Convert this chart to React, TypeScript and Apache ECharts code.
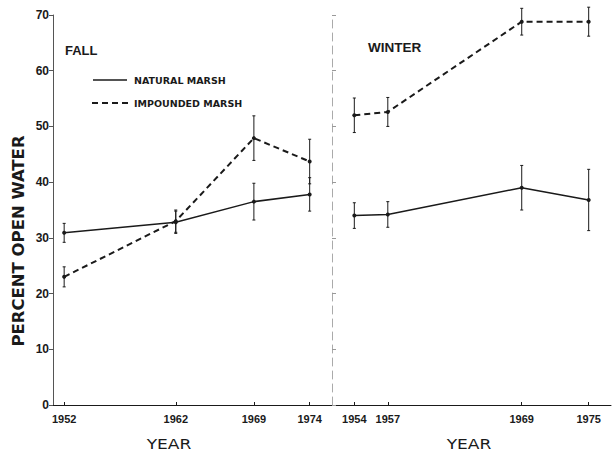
import React, { useEffect, useRef } from "react";
import * as echarts from "echarts";

const fallYears = [1952, 1962, 1969, 1974];
const fallNatural = [30.9, 32.8, 36.5, 37.8];
const fallNaturalErr = [1.7, 2.0, 3.3, 3.0];
const fallImpounded = [23.0, 33.0, 47.9, 43.7];
const fallImpoundedErr = [1.8, 2.0, 4.0, 4.0];

const winterYears = [1954, 1957, 1969, 1975];
const winterNatural = [34.0, 34.2, 39.0, 36.8];
const winterNaturalErr = [2.3, 2.3, 4.0, 5.5];
const winterImpounded = [52.0, 52.6, 68.8, 68.8];
const winterImpoundedErr = [3.1, 2.6, 2.4, 2.6];

const yTicks = [0, 10, 20, 30, 40, 50, 60, 70];

const INK = "#1a1a1a";

function pairs(xs: number[], ys: number[]) {
  return xs.map((x, i) => [x, ys[i]]);
}
function errs(xs: number[], ys: number[], es: number[]) {
  return xs.map((x, i) => [x, ys[i] - es[i], ys[i] + es[i]]);
}

const errorRender = (params: any, api: any) => {
  const x = api.value(0);
  const lo = api.coord([x, api.value(1)]);
  const hi = api.coord([x, api.value(2)]);
  const w = 1.5;
  const style = { stroke: INK, lineWidth: 1 };
  return {
    type: "group",
    children: [
      { type: "line", shape: { x1: hi[0], y1: hi[1], x2: lo[0], y2: lo[1] }, style },
      { type: "line", shape: { x1: hi[0] - w, y1: hi[1], x2: hi[0] + w, y2: hi[1] }, style },
      { type: "line", shape: { x1: lo[0] - w, y1: lo[1], x2: lo[0] + w, y2: lo[1] }, style },
    ],
  };
};

export default function App() {
  const ref = useRef<HTMLDivElement>(null);
  useEffect(() => {
    if (!ref.current) return;
    const chart = echarts.init(ref.current, undefined, { renderer: "svg" });
    const xAxisBase = (idx: number, min: number, max: number, years: number[]) => ({
      type: "value",
      gridIndex: idx,
      min,
      max,
      axisLine: { show: true, lineStyle: { color: INK, width: 1 } },
      axisTick: { show: true, inside: true, length: 3, customValues: years, lineStyle: { color: INK } },
      axisLabel: {
        customValues: years,
        formatter: (v: number) => String(v),
        fontFamily: "Liberation Sans",
        fontWeight: "bold",
        fontSize: 11,
        color: INK,
        margin: 8,
      },
      splitLine: { show: false },
    });
    const lineSeries = (data: number[][], idx: number, dashed: boolean) => ({
      type: "line",
      xAxisIndex: idx,
      yAxisIndex: idx,
      data,
      symbol: "circle",
      symbolSize: 4,
      itemStyle: { color: INK },
      lineStyle: dashed
        ? { color: INK, width: 2, type: [6, 4] }
        : { color: INK, width: 1.5 },
      z: 3,
    });
    const errSeries = (data: number[][], idx: number) => ({
      type: "custom",
      xAxisIndex: idx,
      yAxisIndex: idx,
      data,
      encode: { x: 0, y: [1, 2] },
      renderItem: errorRender,
      z: 2,
    });
    const label = (text: string, x: number, y: number, size: number, scaleX: number, bold: boolean, rot = 0) => ({
      type: "text",
      x,
      y,
      rotation: rot,
      scaleX,
      style: {
        text,
        fontFamily: "DejaVu Sans",
        fontWeight: bold ? "bold" : "normal",
        fontSize: size,
        fill: INK,
        align: "center",
        verticalAlign: "middle",
      },
    });
    chart.setOption({
      animation: false,
      backgroundColor: "#ffffff",
      grid: [
        { left: 53, top: 15, width: 279, height: 390 },
        { left: 332, top: 15, width: 279, height: 390 },
      ],
      xAxis: [
        xAxisBase(0, 1951, 1976, fallYears),
        xAxisBase(1, 1952, 1977, winterYears),
      ],
      yAxis: [
        {
          type: "value",
          gridIndex: 0,
          min: yTicks[0],
          max: yTicks[yTicks.length - 1],
          interval: 10,
          axisLine: { show: true, lineStyle: { color: "#555", width: 1 } },
          axisTick: { show: true, inside: false, length: 4, lineStyle: { color: "#555" } },
          axisLabel: {
            fontFamily: "Liberation Sans",
            fontWeight: "bold",
            fontSize: 12,
            color: INK,
            margin: 4,
          },
          splitLine: { show: false },
        },
        {
          type: "value",
          gridIndex: 1,
          min: yTicks[0],
          max: yTicks[yTicks.length - 1],
          interval: 10,
          axisLine: { show: true, lineStyle: { color: "#aaa", width: 1, type: [8, 5] } },
          axisTick: { show: true, inside: true, length: 4, lineStyle: { color: "#999" } },
          axisLabel: { show: false },
          splitLine: { show: false },
        },
      ],
      series: [
        errSeries(errs(fallYears, fallNatural, fallNaturalErr), 0),
        errSeries(errs(fallYears, fallImpounded, fallImpoundedErr), 0),
        errSeries(errs(winterYears, winterNatural, winterNaturalErr), 1),
        errSeries(errs(winterYears, winterImpounded, winterImpoundedErr), 1),
        lineSeries(pairs(fallYears, fallNatural), 0, false),
        lineSeries(pairs(fallYears, fallImpounded), 0, true),
        lineSeries(pairs(winterYears, winterNatural), 1, false),
        lineSeries(pairs(winterYears, winterImpounded), 1, true),
      ],
      graphic: [
        label("PERCENT OPEN WATER", 19, 241, 15, 1.1, true, Math.PI / 2),
        label("YEAR", 169, 445, 14, 1.22, false),
        label("YEAR", 469, 445, 14, 1.22, false),
        {
          type: "text",
          x: 65,
          y: 50,
          style: {
            text: "FALL",
            fontFamily: "Liberation Sans",
            fontWeight: "bold",
            fontSize: 13,
            fill: INK,
            align: "left",
            verticalAlign: "middle",
          },
        },
        {
          type: "text",
          x: 368,
          y: 47,
          style: {
            text: "WINTER",
            fontFamily: "Liberation Sans",
            fontWeight: "bold",
            fontSize: 13.5,
            fill: INK,
            align: "left",
            verticalAlign: "middle",
          },
        },
        {
          type: "line",
          shape: { x1: 93, y1: 80, x2: 127, y2: 80 },
          style: { stroke: INK, lineWidth: 1.5 },
        },
        {
          type: "line",
          shape: { x1: 92, y1: 103, x2: 128, y2: 103 },
          style: { stroke: INK, lineWidth: 2, lineDash: [6, 4] },
        },
        {
          type: "text",
          x: 134,
          y: 80,
          style: {
            text: "NATURAL MARSH",
            fontFamily: "DejaVu Sans",
            fontWeight: "bold",
            fontSize: 9.5,
            fill: INK,
            align: "left",
            verticalAlign: "middle",
          },
        },
        {
          type: "text",
          x: 134,
          y: 103,
          style: {
            text: "IMPOUNDED MARSH",
            fontFamily: "DejaVu Sans",
            fontWeight: "bold",
            fontSize: 9.5,
            fill: INK,
            align: "left",
            verticalAlign: "middle",
          },
        },
      ],
    });
    return () => chart.dispose();
  }, []);
  return (
    <div
      ref={ref}
      style={{ position: "fixed", left: 0, top: 0, width: 616, height: 452 }}
    />
  );
}
